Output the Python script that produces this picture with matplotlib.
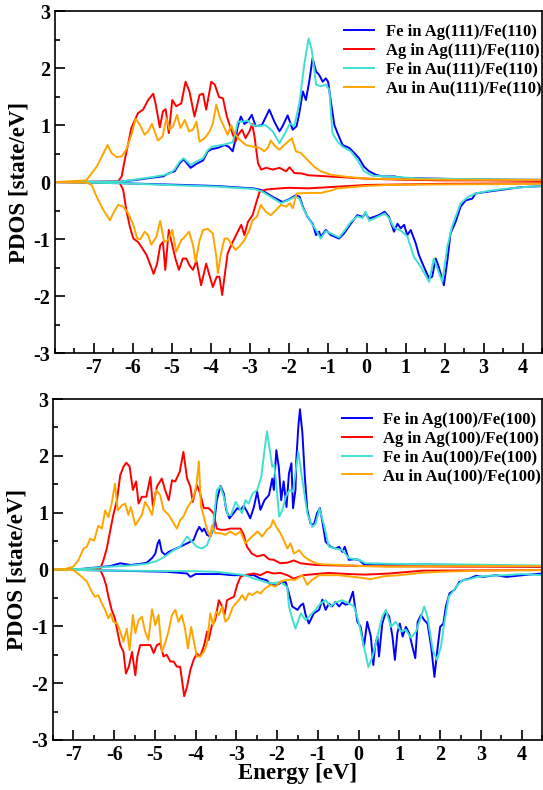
import matplotlib
matplotlib.use("Agg")
import numpy as np
import matplotlib.pyplot as plt
from matplotlib.ticker import MultipleLocator

plt.rcParams['font.family'] = ['Liberation Serif', 'DejaVu Serif']
plt.rcParams['font.weight'] = 'bold'
plt.rcParams['axes.unicode_minus'] = False

# ---- top panel: (111)/(110) interfaces, (energy, PDOS) pairs ----
fe_ag111_up = [(-8, 0), (-6.3, 0.01), (-5.9, 0.04), (-5.48, 0.08), (-5.23, 0.1), (-5.06, 0.16), (-4.93, 0.19),
               (-4.8, 0.33), (-4.7, 0.40), (-4.52, 0.25), (-4.37, 0.32), (-4.2, 0.38), (-4.08, 0.54), (-3.97, 0.58),
               (-3.82, 0.6), (-3.65, 0.65), (-3.54, 0.62), (-3.44, 0.54), (-3.37, 0.74), (-3.31, 0.98), (-3.23, 1.15),
               (-3.14, 1.02), (-3.06, 1.06), (-2.95, 1.18), (-2.85, 0.98), (-2.69, 1.0), (-2.5, 1.27), (-2.37, 1.06),
               (-2.24, 0.89), (-2.16, 0.98), (-2.03, 1.17), (-1.9, 0.92), (-1.8, 0.98), (-1.73, 1.21), (-1.64, 1.59),
               (-1.56, 1.44), (-1.47, 1.79), (-1.39, 2.17), (-1.3, 1.94), (-1.22, 1.88), (-1.13, 1.76), (-1.05, 1.82),
               (-0.99, 1.76), (-0.92, 1.41), (-0.83, 1.0), (-0.75, 0.86), (-0.62, 0.65), (-0.45, 0.6), (-0.32, 0.51),
               (-0.2, 0.42), (-0.07, 0.27), (0.06, 0.19), (0.23, 0.13), (0.4, 0.10), (0.7, 0.10), (0.96, 0.07),
               (1.81, 0.06), (2.66, 0.05), (3.94, 0.04), (4.5, 0.04)]
fe_ag111_dn = [(-8, 0), (-6.3, -0.02), (-4.7, -0.05), (-3.8, -0.07), (-3.4, -0.09), (-2.9, -0.11), (-2.7, -0.14),
               (-2.41, -0.26), (-2.16, -0.35), (-1.99, -0.30), (-1.82, -0.23), (-1.72, -0.26), (-1.64, -0.43),
               (-1.52, -0.61), (-1.39, -0.73), (-1.3, -0.93), (-1.22, -0.87), (-1.18, -0.96), (-1.05, -0.84),
               (-0.92, -0.93), (-0.71, -0.99), (-0.58, -0.9), (-0.41, -0.73), (-0.24, -0.58), (-0.11, -0.61),
               (-0.03, -0.55), (0.06, -0.64), (0.19, -0.61), (0.31, -0.58), (0.46, -0.52), (0.57, -0.61), (0.7, -0.87),
               (0.79, -0.73), (0.87, -0.81), (0.96, -0.75), (1.04, -0.93), (1.13, -0.84), (1.26, -1.08), (1.34, -1.28),
               (1.47, -1.49), (1.6, -1.69), (1.68, -1.66), (1.77, -1.34), (1.85, -1.49), (1.98, -1.81), (2.07, -1.37),
               (2.15, -0.9), (2.28, -0.7), (2.41, -0.43), (2.54, -0.32), (2.71, -0.29), (2.79, -0.2), (3.09, -0.17),
               (3.52, -0.13), (3.94, -0.09), (4.5, -0.07)]
ag_ag111_up = [(-8, 0), (-6.38, 0.01), (-6.29, 0.10), (-6.21, 0.39), (-6.12, 0.68), (-6.04, 0.95), (-5.95, 1.09),
               (-5.87, 1.21), (-5.74, 1.27), (-5.61, 1.44), (-5.48, 1.55), (-5.42, 1.38), (-5.31, 0.96), (-5.23, 1.24),
               (-5.16, 1.28), (-5.08, 0.86), (-4.99, 1.44), (-4.89, 1.33), (-4.76, 1.38), (-4.65, 1.76), (-4.55, 1.59),
               (-4.42, 1.15), (-4.29, 1.53), (-4.2, 1.55), (-4.12, 1.27), (-3.99, 1.76), (-3.9, 1.71), (-3.79, 1.49),
               (-3.69, 1.47), (-3.59, 1.15), (-3.48, 0.92), (-3.37, 0.71), (-3.3, 0.83), (-3.2, 0.92), (-3.11, 0.77),
               (-3.01, 0.89), (-2.94, 1.02), (-2.88, 0.80), (-2.79, 0.33), (-2.71, 0.22), (-2.58, 0.25), (-2.41, 0.22),
               (-2.24, 0.25), (-2.07, 0.19), (-1.98, 0.26), (-1.86, 0.16), (-1.66, 0.15), (-1.5, 0.12), (-1.0, 0.1),
               (-0.5, 0.08), (0.0, 0.06), (1.0, 0.04), (2.0, 0.03), (3.0, 0.03), (4.5, 0.02)]
ag_ag111_dn = [(-8, 0), (-6.34, -0.01), (-6.25, -0.14), (-6.17, -0.49), (-6.08, -0.78), (-5.99, -0.99),
               (-5.87, -1.05), (-5.76, -1.16), (-5.65, -1.28), (-5.55, -1.46), (-5.47, -1.61), (-5.38, -1.43),
               (-5.3, -1.11), (-5.23, -1.05), (-5.17, -1.54), (-5.08, -0.84), (-4.99, -1.11), (-4.91, -1.34),
               (-4.82, -1.54), (-4.72, -1.34), (-4.63, -1.34), (-4.55, -1.46), (-4.46, -1.54), (-4.37, -1.38),
               (-4.25, -1.81), (-4.12, -1.43), (-4.03, -1.65), (-3.95, -1.84), (-3.85, -1.66), (-3.78, -1.66),
               (-3.71, -1.98), (-3.65, -1.66), (-3.57, -1.25), (-3.44, -1.05), (-3.31, -0.87), (-3.22, -0.75),
               (-3.14, -0.93), (-3.05, -0.7), (-2.93, -0.58), (-2.84, -0.37), (-2.75, -0.17), (-2.58, -0.13),
               (-2.24, -0.11), (-2.0, -0.1), (-1.5, -0.11), (-1.0, -0.09), (-0.5, -0.07), (0.0, -0.05), (1.0, -0.04),
               (2.0, -0.03), (4.5, -0.02)]
fe_au111_up = [(-8, 0), (-6.3, 0.01), (-5.9, 0.05), (-5.48, 0.09), (-5.23, 0.12), (-5.06, 0.15), (-4.93, 0.22),
               (-4.8, 0.36), (-4.7, 0.42), (-4.52, 0.30), (-4.37, 0.36), (-4.2, 0.42), (-4.08, 0.56), (-3.97, 0.62),
               (-3.82, 0.64), (-3.65, 0.66), (-3.54, 0.68), (-3.44, 0.7), (-3.37, 0.86), (-3.31, 1.06), (-3.18, 1.06),
               (-3.06, 1.08), (-2.94, 1.0), (-2.77, 0.98), (-2.6, 1.0), (-2.41, 0.89), (-2.24, 0.68), (-2.12, 0.83),
               (-1.97, 1.03), (-1.86, 0.98), (-1.73, 1.38), (-1.6, 2.08), (-1.49, 2.52), (-1.41, 2.32), (-1.3, 1.71),
               (-1.18, 1.68), (-1.05, 1.71), (-0.96, 1.62), (-0.88, 0.86), (-0.75, 0.71), (-0.62, 0.62), (-0.41, 0.54),
               (-0.24, 0.39), (-0.07, 0.19), (0.15, 0.11), (0.53, 0.10), (1.38, 0.06), (3.09, 0.05), (4.5, 0.04)]
fe_au111_dn = [(-8, 0), (-6.3, -0.02), (-4.7, -0.06), (-3.8, -0.08), (-3.4, -0.1), (-2.9, -0.12), (-2.7, -0.16),
               (-2.41, -0.28), (-2.2, -0.37), (-1.99, -0.31), (-1.82, -0.25), (-1.72, -0.3), (-1.64, -0.45),
               (-1.52, -0.6), (-1.39, -0.75), (-1.3, -0.84), (-1.18, -0.99), (-1.05, -0.86), (-0.92, -0.9),
               (-0.71, -0.97), (-0.58, -0.86), (-0.41, -0.7), (-0.24, -0.6), (-0.11, -0.63), (-0.03, -0.52),
               (0.06, -0.68), (0.19, -0.64), (0.31, -0.6), (0.46, -0.55), (0.57, -0.63), (0.7, -0.8), (0.87, -0.85),
               (1.04, -0.95), (1.21, -1.31), (1.4, -1.5), (1.6, -1.75), (1.72, -1.34), (1.94, -1.75), (2.07, -1.13),
               (2.19, -0.78), (2.41, -0.37), (2.6, -0.26), (2.79, -0.2), (3.09, -0.16), (3.52, -0.12), (4.0, -0.09),
               (4.5, -0.07)]
au_au111_up = [(-8, 0), (-7.2, 0.03), (-6.93, 0.27), (-6.65, 0.65), (-6.55, 0.51), (-6.42, 0.44), (-6.29, 0.45),
               (-6.17, 0.57), (-6.04, 0.83), (-5.93, 1.11), (-5.82, 1.0), (-5.7, 0.83), (-5.61, 0.89), (-5.51, 1.02),
               (-5.36, 0.73), (-5.24, 0.80), (-5.14, 1.12), (-5.06, 0.92), (-4.97, 0.98), (-4.87, 1.18), (-4.78, 0.95),
               (-4.67, 1.09), (-4.56, 0.89), (-4.46, 0.92), (-4.37, 1.06), (-4.29, 0.71), (-4.16, 0.77), (-4.03, 0.89),
               (-3.95, 1.03), (-3.86, 1.36), (-3.78, 1.15), (-3.65, 0.95), (-3.57, 0.83), (-3.48, 1.0), (-3.4, 0.86),
               (-3.27, 0.75), (-3.1, 0.65), (-2.92, 0.62), (-2.75, 0.6), (-2.63, 0.54), (-2.54, 0.60), (-2.46, 0.73),
               (-2.37, 0.64), (-2.24, 0.57), (-2.07, 0.68), (-1.92, 0.77), (-1.82, 0.54), (-1.69, 0.51), (-1.52, 0.39),
               (-1.35, 0.27), (-1.18, 0.19), (-0.92, 0.13), (-0.49, 0.09), (0.02, 0.06), (0.96, 0.05), (2.24, 0.04),
               (4.5, 0.04)]
au_au111_dn = [(-8, 0), (-7.19, -0.01), (-7.06, -0.05), (-6.93, -0.26), (-6.76, -0.49), (-6.59, -0.67),
               (-6.51, -0.55), (-6.38, -0.4), (-6.25, -0.43), (-6.12, -0.55), (-5.99, -0.75), (-5.89, -0.99),
               (-5.81, -1.0), (-5.7, -0.87), (-5.61, -0.93), (-5.53, -1.1), (-5.4, -0.96), (-5.3, -0.68), (-5.2, -1.05),
               (-5.1, -1.02), (-4.99, -0.84), (-4.89, -1.22), (-4.76, -1.02), (-4.67, -0.96), (-4.56, -0.87),
               (-4.46, -1.1), (-4.39, -1.4), (-4.29, -1.02), (-4.2, -0.84), (-4.08, -0.82), (-3.95, -0.9),
               (-3.86, -1.31), (-3.82, -1.6), (-3.74, -1.25), (-3.65, -0.99), (-3.57, -0.99), (-3.48, -1.08),
               (-3.37, -1.19), (-3.27, -1.13), (-3.14, -1.02), (-3.01, -0.84), (-2.93, -0.67), (-2.82, -0.61),
               (-2.72, -0.4), (-2.59, -0.52), (-2.46, -0.58), (-2.33, -0.49), (-2.2, -0.4), (-2.07, -0.43),
               (-1.97, -0.37), (-1.9, -0.46), (-1.8, -0.2), (-1.5, -0.19), (-1.18, -0.19), (-0.92, -0.15),
               (-0.75, -0.11), (-0.07, -0.07), (0.53, -0.05), (2.0, -0.04), (4.5, -0.03)]

# ---- bottom panel: (100)/(100) interfaces ----
fe_ag100_up = [(-7.5, 0), (-6.8, 0.01), (-6.1, 0.06), (-5.85, 0.11), (-5.6, 0.08), (-5.36, 0.1), (-5.2, 0.12),
               (-5.07, 0.2), (-4.99, 0.28), (-4.93, 0.46), (-4.89, 0.52), (-4.83, 0.31), (-4.75, 0.26), (-4.66, 0.31),
               (-4.54, 0.35), (-4.38, 0.4), (-4.21, 0.46), (-4.05, 0.52), (-3.97, 0.67), (-3.91, 0.75), (-3.84, 0.67),
               (-3.79, 0.72), (-3.72, 0.61), (-3.64, 0.58), (-3.56, 0.72), (-3.48, 1.22), (-3.39, 1.47), (-3.31, 1.34),
               (-3.25, 1.05), (-3.17, 0.9), (-3.07, 0.99), (-2.98, 1.08), (-2.9, 1.05), (-2.82, 1.12), (-2.74, 1.02),
               (-2.66, 0.9), (-2.57, 1.1), (-2.49, 1.37), (-2.41, 1.05), (-2.31, 1.22), (-2.2, 1.31), (-2.12, 1.6),
               (-2.08, 1.4), (-2.02, 2.1), (-1.96, 1.81), (-1.9, 1.22), (-1.84, 1.55), (-1.77, 1.1), (-1.71, 1.69),
               (-1.65, 1.87), (-1.61, 1.08), (-1.55, 1.4), (-1.53, 1.93), (-1.48, 2.51), (-1.44, 2.82), (-1.38, 2.4),
               (-1.32, 1.63), (-1.26, 1.05), (-1.18, 0.81), (-1.1, 0.78), (-1.02, 0.99), (-0.95, 1.08), (-0.89, 0.84),
               (-0.81, 0.49), (-0.69, 0.4), (-0.57, 0.37), (-0.48, 0.4), (-0.4, 0.31), (-0.34, 0.4), (-0.24, 0.17),
               (-0.11, 0.18), (0.01, 0.17), (0.13, 0.09), (0.42, 0.1), (0.75, 0.09), (1.57, 0.09), (2.39, 0.08),
               (3.2, 0.06), (4.5, 0.05)]
fe_ag100_dn = [(-7.5, 0), (-6.0, -0.02), (-4.7, -0.04), (-4.21, -0.07), (-4.13, -0.13), (-4.0, -0.08),
               (-3.4, -0.08), (-3.1, -0.1), (-2.57, -0.1), (-2.41, -0.16), (-2.25, -0.19), (-2.16, -0.27),
               (-2.04, -0.28), (-1.92, -0.24), (-1.79, -0.22), (-1.71, -0.42), (-1.63, -0.65), (-1.5, -0.71),
               (-1.42, -0.63), (-1.36, -0.6), (-1.3, -0.8), (-1.22, -0.95), (-1.1, -0.77), (-0.97, -0.71),
               (-0.89, -0.53), (-0.81, -0.71), (-0.73, -0.6), (-0.65, -0.65), (-0.57, -0.57), (-0.48, -0.65),
               (-0.4, -0.58), (-0.32, -0.62), (-0.24, -0.6), (-0.14, -0.39), (-0.09, -0.65), (-0.03, -0.92),
               (0.05, -1.01), (0.13, -1.36), (0.21, -0.92), (0.3, -1.18), (0.36, -1.68), (0.4, -1.36), (0.46, -1.18),
               (0.5, -1.53), (0.58, -0.95), (0.67, -0.74), (0.75, -0.83), (0.83, -1.18), (0.89, -1.59), (0.95, -1.12),
               (1.01, -0.95), (1.08, -1.18), (1.16, -1.01), (1.24, -1.12), (1.32, -1.36), (1.39, -1.56), (1.45, -0.92),
               (1.53, -0.8), (1.61, -0.89), (1.69, -0.95), (1.78, -1.36), (1.86, -1.89), (1.94, -1.36), (2.0, -1.01),
               (2.08, -0.95), (2.14, -0.65), (2.23, -0.42), (2.35, -0.36), (2.47, -0.22), (2.6, -0.18), (2.72, -0.16),
               (2.88, -0.11), (3.05, -0.13), (3.37, -0.1), (3.62, -0.13), (4.03, -0.1), (4.5, -0.07)]
ag_ag100_up = [(-7.5, 0), (-6.34, 0.01), (-6.26, 0.17), (-6.18, 0.37), (-6.1, 0.67), (-6.02, 0.96), (-5.93, 1.22),
               (-5.85, 1.66), (-5.77, 1.81), (-5.7, 1.88), (-5.62, 1.81), (-5.54, 1.4), (-5.46, 1.55), (-5.4, 1.16),
               (-5.32, 1.28), (-5.21, 1.28), (-5.11, 1.63), (-5.05, 1.11), (-4.95, 1.46), (-4.83, 1.6), (-4.75, 1.4),
               (-4.66, 1.22), (-4.58, 1.57), (-4.5, 1.55), (-4.39, 1.72), (-4.3, 2.07), (-4.21, 1.6), (-4.13, 1.46),
               (-4.07, 1.19), (-3.97, 1.49), (-3.89, 1.34), (-3.8, 1.08), (-3.68, 1.08), (-3.56, 0.99), (-3.48, 0.72),
               (-3.39, 0.7), (-3.27, 0.7), (-3.15, 0.72), (-3.02, 0.72), (-2.9, 0.72), (-2.82, 0.61), (-2.74, 0.4),
               (-2.62, 0.28), (-2.49, 0.23), (-2.33, 0.26), (-2.2, 0.18), (-2.08, 0.17), (-1.92, 0.11), (-1.75, 0.12),
               (-1.59, 0.16), (-1.43, 0.11), (-1.06, 0.08), (-0.48, 0.07), (0.34, 0.06), (2.4, 0.05), (4.5, 0.05)]
ag_ag100_dn = [(-7.5, 0), (-6.34, -0.01), (-6.26, -0.13), (-6.2, -0.27), (-6.14, -0.48), (-6.06, -0.71),
               (-5.98, -0.86), (-5.92, -1.09), (-5.85, -1.33), (-5.77, -1.45), (-5.71, -1.83), (-5.64, -1.71),
               (-5.56, -1.45), (-5.48, -1.86), (-5.43, -1.53), (-5.36, -1.33), (-5.24, -1.33), (-5.11, -1.33),
               (-5.03, -1.47), (-4.95, -1.33), (-4.87, -1.3), (-4.79, -1.53), (-4.71, -1.5), (-4.62, -1.62),
               (-4.54, -1.62), (-4.46, -1.71), (-4.38, -1.71), (-4.28, -2.23), (-4.21, -2.06), (-4.13, -1.77),
               (-4.05, -1.59), (-3.97, -1.48), (-3.89, -1.53), (-3.79, -1.33), (-3.72, -1.09), (-3.68, -1.24),
               (-3.6, -0.98), (-3.52, -0.89), (-3.43, -0.54), (-3.35, -0.65), (-3.29, -0.8), (-3.23, -0.54),
               (-3.15, -0.51), (-3.06, -0.48), (-2.98, -0.27), (-2.9, -0.13), (-2.82, -0.1), (-2.57, -0.07),
               (-2.41, -0.1), (-2.25, -0.04), (-2.08, -0.07), (-1.92, -0.06), (-1.75, -0.1), (-1.59, -0.16),
               (-1.36, -0.1), (-1.06, -0.08), (-0.73, -0.06), (-0.24, -0.08), (0.17, -0.09), (0.75, -0.07),
               (1.57, -0.02), (4.5, -0.01)]
fe_au100_up = [(-7.5, 0), (-6.8, 0.01), (-6.1, 0.05), (-5.6, 0.07), (-5.2, 0.1), (-4.95, 0.15), (-4.75, 0.23),
               (-4.54, 0.34), (-4.38, 0.4), (-4.21, 0.58), (-4.09, 0.49), (-3.97, 0.4), (-3.84, 0.37), (-3.72, 0.43),
               (-3.64, 0.58), (-3.57, 0.75), (-3.48, 1.4), (-3.39, 1.46), (-3.31, 1.28), (-3.21, 0.96), (-3.13, 0.96),
               (-3.02, 1.19), (-2.94, 1.1), (-2.86, 0.99), (-2.78, 1.22), (-2.7, 1.16), (-2.6, 1.34), (-2.49, 1.4),
               (-2.39, 1.63), (-2.31, 2.1), (-2.25, 2.43), (-2.18, 2.1), (-2.12, 1.81), (-2.07, 1.84), (-2.02, 1.49),
               (-1.95, 0.93), (-1.87, 1.05), (-1.79, 1.28), (-1.69, 1.4), (-1.61, 1.37), (-1.53, 1.81), (-1.48, 2.07),
               (-1.38, 1.57), (-1.26, 0.99), (-1.14, 0.75), (-1.06, 0.8), (-0.96, 1.07), (-0.85, 0.78), (-0.73, 0.4),
               (-0.4, 0.34), (-0.24, 0.2), (0.01, 0.17), (0.17, 0.11), (0.75, 0.1), (2.4, 0.09), (4.5, 0.07)]
fe_au100_dn = [(-7.5, 0), (-6.0, -0.02), (-4.0, -0.03), (-3.5, -0.04), (-2.78, -0.1), (-2.57, -0.16),
               (-2.41, -0.19), (-2.25, -0.23), (-2.08, -0.24), (-1.92, -0.22), (-1.75, -0.31), (-1.71, -0.65),
               (-1.63, -0.86), (-1.55, -1.04), (-1.42, -0.77), (-1.3, -0.89), (-1.18, -0.8), (-1.06, -0.71),
               (-0.94, -0.6), (-0.81, -0.54), (-0.69, -0.65), (-0.57, -0.58), (-0.4, -0.54), (-0.24, -0.6),
               (-0.11, -0.65), (0.01, -0.95), (0.13, -1.36), (0.24, -1.72), (0.34, -1.53), (0.46, -1.18),
               (0.58, -0.83), (0.67, -0.71), (0.79, -1.01), (0.91, -0.92), (1.04, -1.09), (1.16, -1.06), (1.28, -1.2),
               (1.41, -1.09), (1.53, -0.83), (1.61, -0.65), (1.69, -0.83), (1.82, -1.42), (1.92, -1.59),
               (2.02, -1.36), (2.1, -0.95), (2.21, -0.48), (2.31, -0.39), (2.43, -0.27), (2.55, -0.19),
               (2.72, -0.17), (2.9, -0.13), (3.2, -0.11), (3.6, -0.1), (4.0, -0.08), (4.5, -0.1)]
au_au100_up = [(-7.5, 0), (-7.2, 0.01), (-7.0, 0.05), (-6.88, 0.16), (-6.75, 0.37), (-6.67, 0.4), (-6.59, 0.54),
               (-6.49, 0.51), (-6.39, 0.77), (-6.3, 0.72), (-6.22, 1.04), (-6.14, 0.92), (-6.06, 1.16), (-5.98, 1.51),
               (-5.91, 1.04), (-5.81, 1.13), (-5.73, 1.16), (-5.65, 0.96), (-5.59, 1.1), (-5.48, 0.78), (-5.4, 0.87),
               (-5.32, 0.96), (-5.24, 1.19), (-5.16, 1.1), (-5.07, 0.96), (-4.97, 1.4), (-4.87, 1.31), (-4.79, 1.05),
               (-4.66, 0.96), (-4.56, 0.84), (-4.46, 0.72), (-4.38, 0.87), (-4.3, 0.93), (-4.21, 1.08), (-4.11, 1.19),
               (-4.05, 1.28), (-3.98, 1.49), (-3.92, 1.9), (-3.87, 1.11), (-3.82, 0.99), (-3.76, 0.81), (-3.7, 0.67),
               (-3.64, 0.58), (-3.6, 0.78), (-3.52, 0.64), (-3.39, 0.64), (-3.27, 0.61), (-3.15, 0.67), (-3.02, 0.61),
               (-2.9, 0.67), (-2.78, 0.46), (-2.66, 0.55), (-2.57, 0.61), (-2.48, 0.67), (-2.37, 0.58), (-2.25, 0.7),
               (-2.16, 0.75), (-2.1, 0.87), (-2.02, 0.75), (-1.92, 0.64), (-1.84, 0.52), (-1.75, 0.37), (-1.67, 0.46),
               (-1.59, 0.28), (-1.46, 0.34), (-1.34, 0.23), (-1.22, 0.17), (-1.06, 0.11), (-0.89, 0.09),
               (-0.48, 0.08), (0.09, 0.06), (0.75, 0.05), (2.39, 0.06), (4.5, 0.06)]
au_au100_dn = [(-7.5, 0), (-7.0, -0.01), (-6.84, -0.1), (-6.67, -0.21), (-6.55, -0.39), (-6.47, -0.48),
               (-6.39, -0.45), (-6.3, -0.6), (-6.22, -0.71), (-6.14, -0.86), (-6.08, -0.77), (-6.02, -0.92),
               (-5.93, -0.95), (-5.85, -1.09), (-5.77, -1.27), (-5.69, -1.04), (-5.62, -1.42), (-5.54, -0.8),
               (-5.48, -1.12), (-5.4, -0.89), (-5.32, -0.83), (-5.24, -1.09), (-5.16, -1.24), (-5.07, -0.7),
               (-4.99, -0.98), (-4.91, -0.8), (-4.83, -1.45), (-4.75, -1.3), (-4.66, -1.07), (-4.58, -0.8),
               (-4.5, -0.71), (-4.42, -0.92), (-4.34, -0.8), (-4.26, -1.04), (-4.19, -1.39), (-4.11, -1.01),
               (-4.05, -1.24), (-3.97, -1.53), (-3.89, -1.53), (-3.8, -1.45), (-3.72, -1.3), (-3.64, -0.77),
               (-3.57, -0.98), (-3.5, -0.74), (-3.43, -0.8), (-3.35, -0.65), (-3.27, -0.92), (-3.19, -0.86),
               (-3.1, -0.68), (-3.02, -0.6), (-2.94, -0.54), (-2.86, -0.45), (-2.78, -0.54), (-2.7, -0.42),
               (-2.62, -0.45), (-2.49, -0.39), (-2.41, -0.42), (-2.29, -0.33), (-2.16, -0.27), (-2.04, -0.3),
               (-1.92, -0.21), (-1.75, -0.18), (-1.55, -0.18), (-1.38, -0.1), (-1.26, -0.27), (-1.14, -0.18),
               (-0.97, -0.1), (-0.5, -0.1), (0.0, -0.14), (0.3, -0.17), (0.6, -0.12), (1.0, -0.1), (1.5, -0.06),
               (2.0, -0.04), (3.0, -0.02), (4.5, -0.01)]

colors = {'Fe_Ag': '#0000ff', 'Ag': '#ff0000', 'Fe_Au': '#40e0d0', 'Au': '#ffa500'}

panels = [
    dict(xlim=(-8, 4.5), rect=[0.1013, 0.553, 0.897, 0.433], xlabel=None,
         series=[("Fe in Ag(111)/Fe(110)", colors['Fe_Ag'], fe_ag111_up, fe_ag111_dn),
                 ("Ag in Ag(111)/Fe(110)", colors['Ag'], ag_ag111_up, ag_ag111_dn),
                 ("Fe in Au(111)/Fe(110)", colors['Fe_Au'], fe_au111_up, fe_au111_dn),
                 ("Au in Au(111)/Fe(110)", colors['Au'], au_au111_up, au_au111_dn)]),
    dict(xlim=(-7.5, 4.5), rect=[0.0976, 0.0633, 0.9006, 0.4316], xlabel="Energy [eV]",
         series=[("Fe in Ag(100)/Fe(100)", colors['Fe_Ag'], fe_ag100_up, fe_ag100_dn),
                 ("Ag in Ag(100)/Fe(100)", colors['Ag'], ag_ag100_up, ag_ag100_dn),
                 ("Fe in Au(100)/Fe(100)", colors['Fe_Au'], fe_au100_up, fe_au100_dn),
                 ("Au in Au(100)/Fe(100)", colors['Au'], au_au100_up, au_au100_dn)]),
]

fig = plt.figure(figsize=(5.43, 7.90), dpi=100)
for p in panels:
    ax = fig.add_axes(p['rect'])
    handles = []
    for label, col, up, dn in p['series']:
        e, v = zip(*up)
        h, = ax.plot(e, v, color=col, lw=1.4, label=label)
        e, v = zip(*dn)
        ax.plot(e, v, color=col, lw=1.4)
        handles.append(h)
    ax.set_xlim(*p['xlim'])
    ax.set_ylim(-3, 3)
    ax.xaxis.set_minor_locator(MultipleLocator(0.5))
    ax.yaxis.set_minor_locator(MultipleLocator(0.5))
    ax.tick_params(which='both', direction='in', top=False, right=False, width=1.2, labelsize=14.5)
    ax.tick_params(which='major', length=7)
    ax.tick_params(which='minor', length=3.5)
    xt = list(range(-7, 5))
    ax.set_xticks(xt)
    ax.set_xticklabels([str(t) for t in xt], fontweight='bold')
    ax.set_yticks(range(-3, 4))
    ax.set_yticklabels([str(t) for t in range(-3, 4)], fontweight='bold')
    for s in ax.spines.values():
        s.set_linewidth(1.2)
    ax.set_ylabel("PDOS [state/eV]", fontsize=16.5, fontweight='bold', labelpad=3)
    if p['xlabel']:
        ax.set_xlabel(p['xlabel'], fontsize=16.5, fontweight='bold', labelpad=-1)
    ax.legend(handles=handles, loc='upper right', bbox_to_anchor=(1.012, 0.982), frameon=False,
              handlelength=1.8, handletextpad=0.7, labelspacing=0.17,
              borderaxespad=0.0, prop={'weight': 'bold', 'size': 12})

fig.savefig("out.png", dpi=100)
